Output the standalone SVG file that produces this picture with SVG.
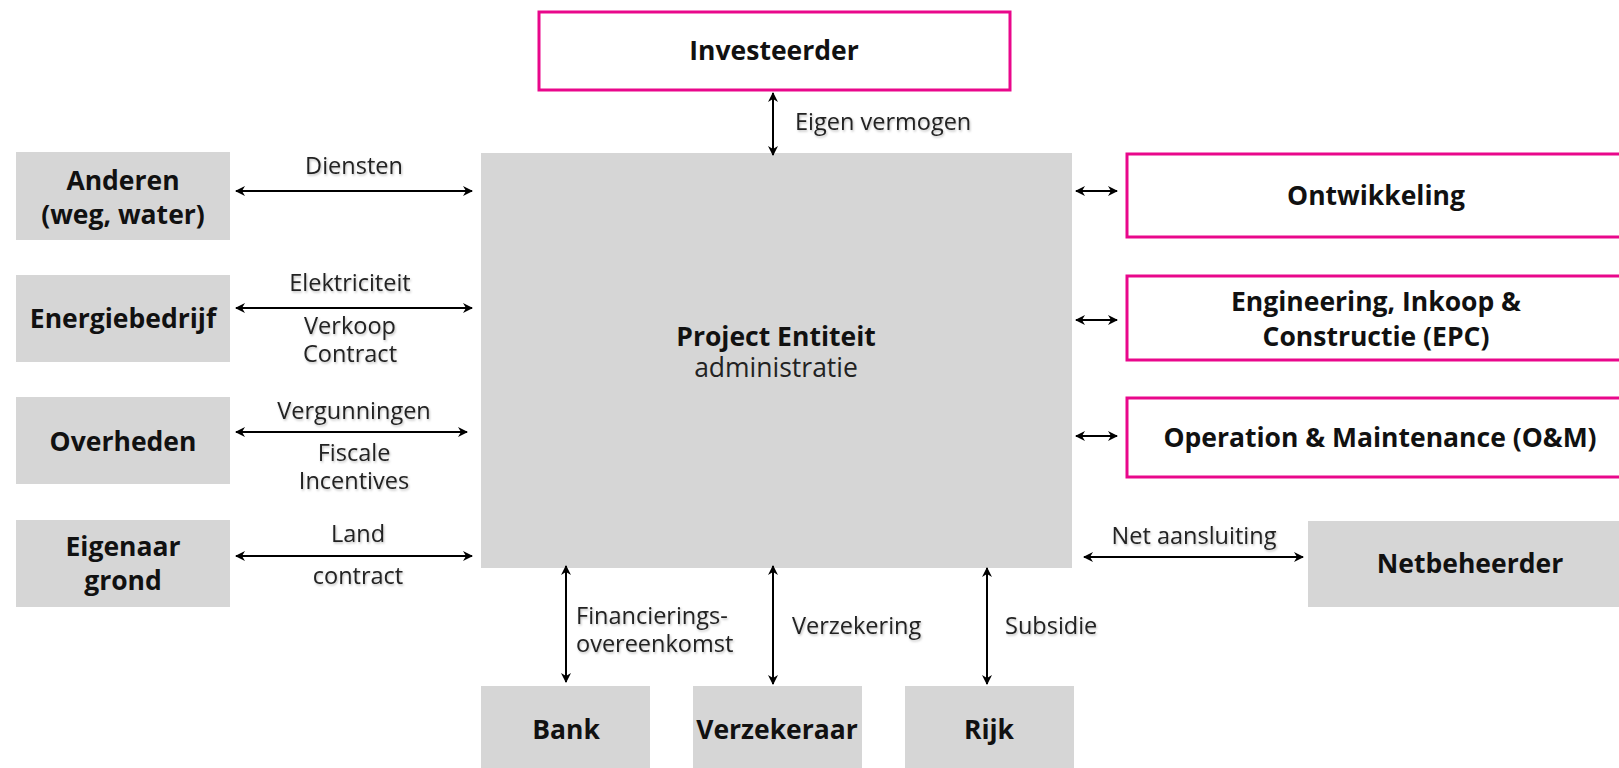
<svg xmlns="http://www.w3.org/2000/svg" width="1619" height="768" viewBox="0 0 1619 768">
<style>
.g{fill:#d6d6d6;stroke:none}
.p{fill:#fff;stroke:#e9078b;stroke-width:3}
.t{font-family:"Open Sans","Noto Sans","Liberation Sans",sans-serif;font-weight:bold;font-size:26.5px;fill:#111;text-anchor:middle}
.l{font-family:"Open Sans","Noto Sans","Liberation Sans",sans-serif;font-size:23.5px;fill:#222;text-anchor:middle;filter:url(#sh)}
.ls{text-anchor:start}
.c{stroke:#000;stroke-width:2;fill:none;marker-start:url(#a);marker-end:url(#a)}
</style>
<defs>
<marker id="a" viewBox="0 0 10 10" refX="9" refY="5" markerWidth="10" markerHeight="10" markerUnits="userSpaceOnUse" orient="auto-start-reverse">
<path d="M0,0 L10,5 L0,10 L3,5 Z" fill="#000"/>
</marker>
<filter id="sh" x="-10%" y="-20%" width="120%" height="150%">
<feDropShadow dx="1" dy="1.5" stdDeviation="1" flood-color="#000" flood-opacity="0.25"/>
</filter>
</defs>
<rect width="1619" height="768" fill="#fff"/>

<g id="investeerder"><rect class="p" x="539" y="12" width="471" height="78"/><text class="t" x="774" y="60">Investeerder</text></g>
<g id="project"><rect class="g" x="481" y="153" width="591" height="415"/><text class="t" x="776" y="346">Project Entiteit</text><text class="l" x="776" y="377" style="filter:none;font-size:26.5px">administratie</text></g>
<g id="anderen"><rect class="g" x="16" y="152" width="214" height="88"/><text class="t" x="123" y="190">Anderen</text><text class="t" x="123" y="224">(weg, water)</text></g>
<g id="energiebedrijf"><rect class="g" x="16" y="275" width="214" height="87"/><text class="t" x="123" y="328">Energiebedrijf</text></g>
<g id="overheden"><rect class="g" x="16" y="397" width="214" height="87"/><text class="t" x="123" y="451">Overheden</text></g>
<g id="eigenaar"><rect class="g" x="16" y="520" width="214" height="87"/><text class="t" x="123" y="556">Eigenaar</text><text class="t" x="123" y="590">grond</text></g>
<g id="ontwikkeling"><rect class="p" x="1127" y="154" width="500" height="83"/><text class="t" x="1376" y="205">Ontwikkeling</text></g>
<g id="epc"><rect class="p" x="1127" y="276" width="500" height="84"/><text class="t" x="1376" y="311">Engineering, Inkoop &amp;</text><text class="t" x="1376" y="346">Constructie (EPC)</text></g>
<g id="om"><rect class="p" x="1127" y="398" width="500" height="79"/><text class="t" x="1380" y="447">Operation &amp; Maintenance (O&amp;M)</text></g>
<g id="netbeheerder"><rect class="g" x="1308" y="521" width="320" height="86"/><text class="t" x="1470" y="573">Netbeheerder</text></g>
<g id="bank"><rect class="g" x="481" y="686" width="169" height="82"/><text class="t" x="566" y="739">Bank</text></g>
<g id="verzekeraar"><rect class="g" x="693" y="686" width="169" height="82"/><text class="t" x="777" y="739">Verzekeraar</text></g>
<g id="rijk"><rect class="g" x="905" y="686" width="169" height="82"/><text class="t" x="989" y="739">Rijk</text></g>

<g id="connectors">
<line class="c" x1="773" y1="93" x2="773" y2="155"/>
<line class="c" x1="236" y1="191" x2="472" y2="191"/>
<line class="c" x1="236" y1="308" x2="472" y2="308"/>
<line class="c" x1="236" y1="432" x2="467" y2="432"/>
<line class="c" x1="236" y1="556" x2="472" y2="556"/>
<line class="c" x1="1076" y1="191" x2="1117" y2="191"/>
<line class="c" x1="1076" y1="320" x2="1117" y2="320"/>
<line class="c" x1="1076" y1="436" x2="1117" y2="436"/>
<line class="c" x1="1084" y1="557" x2="1303" y2="557"/>
<line class="c" x1="566" y1="566" x2="566" y2="682"/>
<line class="c" x1="773" y1="566" x2="773" y2="684"/>
<line class="c" x1="987" y1="568" x2="987" y2="684"/>
<text class="l ls" x="795" y="130">Eigen vermogen</text>
<text class="l" x="354" y="174">Diensten</text>
<text class="l" x="350" y="291">Elektriciteit</text>
<text class="l" x="350" y="334">Verkoop</text>
<text class="l" x="350" y="362">Contract</text>
<text class="l" x="354" y="419">Vergunningen</text>
<text class="l" x="354" y="461">Fiscale</text>
<text class="l" x="354" y="489">Incentives</text>
<text class="l" x="358" y="542">Land</text>
<text class="l" x="358" y="584">contract</text>
<text class="l" x="1194" y="544">Net aansluiting</text>
<text class="l ls" x="576" y="624">Financierings-</text>
<text class="l ls" x="576" y="652">overeenkomst</text>
<text class="l ls" x="792" y="634">Verzekering</text>
<text class="l ls" x="1005" y="634">Subsidie</text>
</g>
</svg>
